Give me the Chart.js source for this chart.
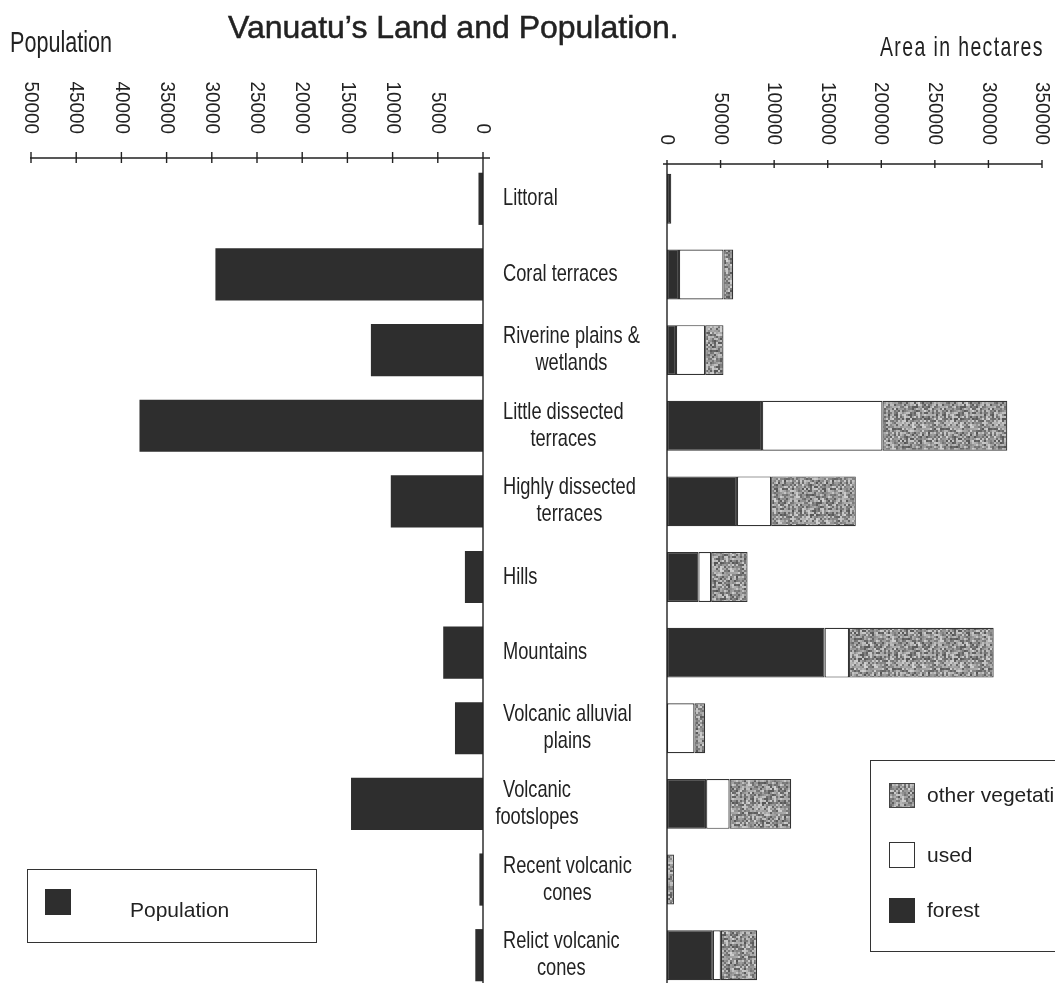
<!DOCTYPE html>
<html><head><meta charset="utf-8">
<script src="https://cdn.jsdelivr.net/npm/chart.js@4/dist/chart.umd.min.js"></script>
<style>
html,body{margin:0;padding:0;background:#fff;overflow:hidden;width:1055px;height:983px}
#wrap{position:relative;width:1055px;height:983px;overflow:hidden;background:#fff}
canvas{position:absolute;top:0}
.t{position:absolute;color:#222;white-space:nowrap}
.n{transform-origin:0 0}
.box{position:absolute;border:1.5px solid #333;box-sizing:border-box}
.sw{position:absolute;box-sizing:border-box}
</style></head><body>
<div id="wrap">
<canvas id="pop" width="700" height="1000" style="left:0;width:700px;height:1000px"></canvas>
<canvas id="area" width="415" height="1000" style="left:640px;width:415px;height:1000px"></canvas>

<div class="t" style="left:228px;top:11px;font:32px 'Liberation Sans',Arial,sans-serif;line-height:32px;-webkit-text-stroke:0.5px #222">Vanuatu’s Land and Population.</div>
<div class="t n" style="left:10px;top:27px;font:30px 'Liberation Sans',Arial,sans-serif;line-height:30px;transform:scaleX(0.72)">Population</div>
<div class="t n" style="left:880px;top:33px;font:28px 'Liberation Sans',Arial,sans-serif;line-height:28px;letter-spacing:2px;transform:scaleX(0.695)">Area in hectares</div>

<div class="box" style="left:27px;top:869px;width:290px;height:74px"></div>
<div class="sw" style="left:45px;top:889px;width:26px;height:26px;background:#2e2e2e"></div>
<div class="t" style="left:130px;top:899px;font:21px 'Liberation Sans',Arial,sans-serif;line-height:21px">Population</div>

<div class="box" style="left:870px;top:760px;width:300px;height:192px"></div>
<div class="sw" id="swOther" style="left:889px;top:783px;width:26px;height:25px;border:1px solid #444"></div>
<div class="t" style="left:927px;top:784px;font:21px 'Liberation Sans',Arial,sans-serif;line-height:21px">other vegetation</div>
<div class="sw" style="left:889px;top:842px;width:26px;height:26px;border:1.5px solid #333;background:#fff"></div>
<div class="t" style="left:927px;top:844px;font:21px 'Liberation Sans',Arial,sans-serif;line-height:21px">used</div>
<div class="sw" style="left:889px;top:898px;width:26px;height:25px;background:#2e2e2e"></div>
<div class="t" style="left:927px;top:899px;font:21px 'Liberation Sans',Arial,sans-serif;line-height:21px">forest</div>
</div>
<script>
// ---- data ----
const categories = [
  ["Littoral"],
  ["Coral terraces"],
  ["Riverine plains &", "wetlands"],
  ["Little dissected", "terraces"],
  ["Highly dissected", "terraces"],
  ["Hills"],
  ["Mountains"],
  ["Volcanic alluvial", "plains"],
  ["Volcanic", "footslopes"],
  ["Recent volcanic", "cones"],
  ["Relict volcanic", "cones"]
];
const population = [500, 29600, 12400, 38000, 10200, 2000, 4400, 3100, 14600, 400, 850];
const forest = [4000, 11200, 8400, 88700, 65300, 29300, 147100, 0, 36500, 0, 42800];
const used   = [0, 41500, 27200, 112400, 31900, 11900, 22800, 25600, 21900, 0, 7500];
const otherVeg = [0, 9100, 17100, 116500, 79000, 34000, 135000, 10000, 57500, 6500, 33700];
const popTicks = [0, 5000, 10000, 15000, 20000, 25000, 30000, 35000, 40000, 45000, 50000];
const areaTicks = [0, 50000, 100000, 150000, 200000, 250000, 300000, 350000];

// ---- stipple texture for "other vegetation" (deterministic hash, styling only) ----
function makeStipple(){
  const N = 24, C = 2;
  const c = document.createElement('canvas'); c.width = N * C; c.height = N * C;
  const g = c.getContext('2d');
  for (let y = 0; y < N; y++) for (let x = 0; x < N; x++) {
    let h = Math.imul(x, 374761393) + Math.imul(y, 668265263);
    h = Math.imul(h ^ (h >>> 13), 1274126177);
    h ^= h >>> 16;
    const v = (h & 255) / 255;
    const l = Math.round(85 + v * 125);
    g.fillStyle = `rgb(${l},${l},${l})`;
    g.fillRect(x * C, y * C, C, C);
  }
  return c;
}
const stip = makeStipple();
document.getElementById('swOther').style.backgroundImage = `url(${stip.toDataURL()})`;
const areaCtx = document.getElementById('area').getContext('2d');
const stipPattern = areaCtx.createPattern(stip, 'repeat');

const INK = '#222';
const DARK = '#2e2e2e';

const axisPlugin = {
  id: 'axisDeco',
  afterDatasetsDraw(chart, args, o) {
    const ctx = chart.ctx, xs = chart.scales.x;
    ctx.save();
    ctx.strokeStyle = INK; ctx.lineWidth = 1.4;
    const px = o.ticks.map(t => xs.getPixelForValue(t));
    const lo = Math.min(...px), hi = Math.max(...px);
    const x0 = xs.getPixelForValue(0);
    ctx.beginPath();
    ctx.moveTo(lo - o.extL, o.axisY); ctx.lineTo(hi + o.extR, o.axisY);
    ctx.moveTo(x0, o.axisY); ctx.lineTo(x0, chart.height);
    px.forEach(x => { ctx.moveTo(x, o.axisY - o.tickUp); ctx.lineTo(x, o.axisY + o.tickDown); });
    ctx.stroke();
    ctx.fillStyle = INK;
    ctx.font = o.font;
    o.ticks.forEach((t, i) => {
      ctx.save();
      ctx.translate(px[i], o.labelEnd);
      ctx.rotate(Math.PI / 2);
      ctx.scale(o.tickScale, 1);
      ctx.textAlign = 'right'; ctx.textBaseline = 'middle';
      ctx.fillText(String(t), 0, 0);
      ctx.restore();
    });
    if (o.catX) {
      const ys = chart.scales.y;
      ctx.font = o.catFont;
      ctx.textBaseline = 'middle';
      const s = o.catScale;
      chart.data.labels.forEach((lines, i) => {
        const yc = ys.getPixelForValue(i);
        const n = lines.length, lh = 27;
        const w0 = ctx.measureText(lines[0]).width * s;
        lines.forEach((ln, k) => {
          const y = yc + (k - (n - 1) / 2) * lh;
          ctx.save();
          if (k === 0) { ctx.translate(o.catX, y); ctx.scale(s, 1); ctx.textAlign = 'left'; }
          else { ctx.translate(o.catX + w0 / 2, y); ctx.scale(s, 1); ctx.textAlign = 'center'; }
          ctx.fillText(ln, 0, 0);
          ctx.restore();
        });
      });
    }
    ctx.restore();
  }
};

const common = {
  responsive: false,
  animation: false,
  indexAxis: 'y',
  plugins: { legend: { display: false }, tooltip: { enabled: false }, title: { display: false } },
};

new Chart(document.getElementById('pop'), {
  type: 'bar',
  data: {
    labels: categories,
    datasets: [{ label: 'Population', data: population, backgroundColor: DARK, borderWidth: 0,
      barPercentage: 0.69, categoryPercentage: 1 }]
  },
  options: Object.assign({}, common, {
    layout: { padding: { left: 31, right: 217, top: 161, bottom: 7 } },
    scales: {
      x: { type: 'linear', reverse: true, min: 0, max: 50000, display: false },
      y: { type: 'category', display: false, offset: true }
    },
    plugins: Object.assign({}, common.plugins, {
      axisDeco: { ticks: popTicks, axisY: 158, extL: 1, extR: 7, tickUp: 6, tickDown: 5,
        labelEnd: 134, tickScale: 0.9, font: "21px 'Liberation Sans', Arial, sans-serif",
        catX: 503, catScale: 0.76, catFont: "24px 'Liberation Sans', Arial, sans-serif" }
    })
  }),
  plugins: [axisPlugin]
});

const barOpts = { barPercentage: 0.66, categoryPercentage: 1, borderSkipped: false, borderColor: '#333', borderWidth: 1.2 };
new Chart(areaCtx, {
  type: 'bar',
  data: {
    labels: categories,
    datasets: [
      Object.assign({ label: 'forest', data: forest, backgroundColor: DARK }, barOpts),
      Object.assign({ label: 'used', data: used, backgroundColor: '#ffffff' }, barOpts),
      Object.assign({ label: 'other vegetation', data: otherVeg, backgroundColor: stipPattern }, barOpts)
    ]
  },
  options: Object.assign({}, common, {
    layout: { padding: { left: 27, right: 13, top: 161, bottom: 7 } },
    scales: {
      x: { type: 'linear', stacked: true, min: 0, max: 350000, display: false },
      y: { type: 'category', stacked: true, display: false, offset: true }
    },
    plugins: Object.assign({}, common.plugins, {
      axisDeco: { ticks: areaTicks, axisY: 164, extL: 4, extR: 0, tickUp: 4, tickDown: 4,
        labelEnd: 145, tickScale: 0.9, font: "21px 'Liberation Sans', Arial, sans-serif" }
    })
  }),
  plugins: [axisPlugin]
});
</script>
</body></html>
